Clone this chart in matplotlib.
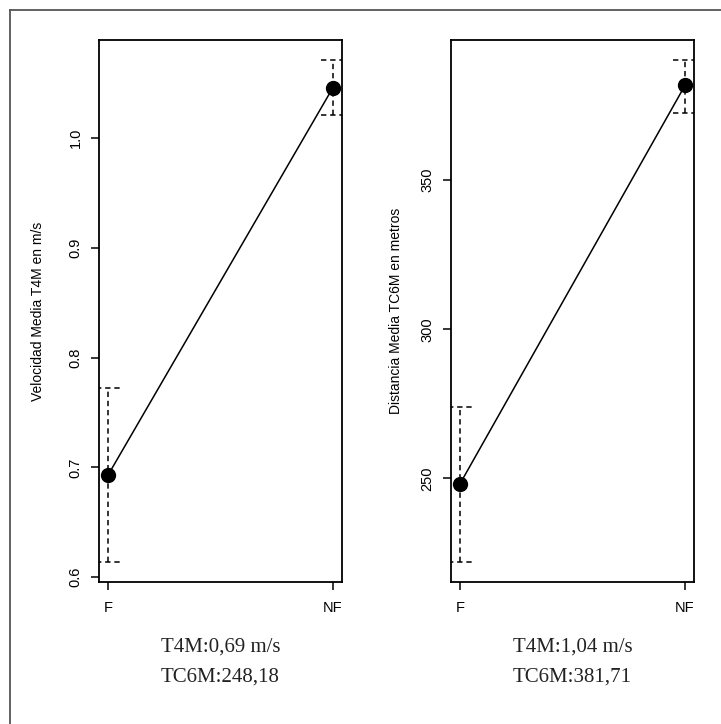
import matplotlib
matplotlib.use('Agg')
import matplotlib.pyplot as plt
from matplotlib.lines import Line2D

# group means with their interval limits
groups    = ['F', 'NF']
vel_mean  = [0.693, 1.046]
vel_lo    = [0.614, 1.021]
vel_hi    = [0.772, 1.071]
dist_mean = [248.18, 381.71]
dist_lo   = [222.0, 372.6]
dist_hi   = [274.0, 390.2]

vel_ticks  = [0.6, 0.7, 0.8, 0.9, 1.0]
dist_ticks = [250, 300, 350]

vel_note  = ['T4M:0,69 m/s', 'TC6M:248,18']
dist_note = ['T4M:1,04 m/s', 'TC6M:381,71']

W, H = 721, 724
SANS  = ['Liberation Sans', 'DejaVu Sans']
SERIF = ['Liberation Serif', 'DejaVu Serif']


def px_box(x0, y0, x1, y1):
    return [x0 / W, 1 - y1 / H, (x1 - x0) / W, (y1 - y0) / H]


def means_panel(ax, mean, lo, hi, ticks, ylabel, label_x):
    xs = list(range(1, len(groups) + 1))
    cap = 0.052
    dash = dict(color='black', lw=1.1, ls=(0, (3.5, 2.5)), zorder=2)
    for x, a, b in zip(xs, lo, hi):
        ax.plot([x, x], [a, b], **dash)
        ax.plot([x - cap, x + cap], [a, a], **dash)
        ax.plot([x - cap, x + cap], [b, b], **dash)
    ax.plot(xs, mean, color='black', lw=1.1, zorder=3)
    ax.plot(xs, mean, 'o', color='black', ms=10, zorder=4)

    ymin, ymax = min(lo), max(hi)
    pad = (ymax - ymin) * 0.04
    ax.set_ylim(ymin - pad, ymax + pad)
    ax.set_xlim(1 - 0.04, len(groups) + 0.04)

    ax.set_xticks(xs)
    ax.set_xticklabels(groups, family=SANS, fontsize=10.5)
    ax.set_yticks(ticks)
    ax.set_yticklabels([f'{t:g}' if isinstance(t, int) else f'{t:.1f}' for t in ticks],
                       family=SANS, fontsize=10.5, rotation=90, va='center')
    ax.tick_params(axis='both', direction='out', length=5.8, width=1.1, colors='black')
    ax.tick_params(axis='x', pad=8)
    ax.tick_params(axis='y', pad=6)
    for sp in ax.spines.values():
        sp.set_linewidth(1.3)
        sp.set_color('black')
    ax.set_ylabel(ylabel, family=SANS, fontsize=10, va='center')
    ax.yaxis.set_label_coords(label_x, 0.5)


fig = plt.figure(figsize=(W / 100, H / 100), dpi=100)
fig.patch.set_facecolor('white')

ax1 = fig.add_axes(px_box(99, 40, 342, 582))
ax2 = fig.add_axes(px_box(451, 40, 694, 582))

means_panel(ax1, vel_mean, vel_lo, vel_hi, vel_ticks,
            'Velocidad Media T4M en m/s', (38 - 99) / 243)
means_panel(ax2, dist_mean, dist_lo, dist_hi, dist_ticks,
            'Distancia Media TC6M en metros', (396 - 451) / 243)

for cx, note in [(220.5, vel_note), (572.5, dist_note)]:
    for yy, line in zip([647, 677], note):
        fig.text(cx / W, 1 - yy / H, line, family=SERIF, fontsize=15,
                 ha='center', va='center', color='#222222')

# outer frame (only top and left edges are visible in the crop)
frame_kw = dict(color='#555555', lw=1.3, transform=fig.transFigure)
fig.add_artist(Line2D([10 / W, 10 / W], [0, 1 - 10 / H], **frame_kw))
fig.add_artist(Line2D([10 / W, 1], [1 - 10 / H, 1 - 10 / H], **frame_kw))

fig.savefig('out.png', dpi=100, facecolor='white')
plt.close(fig)
